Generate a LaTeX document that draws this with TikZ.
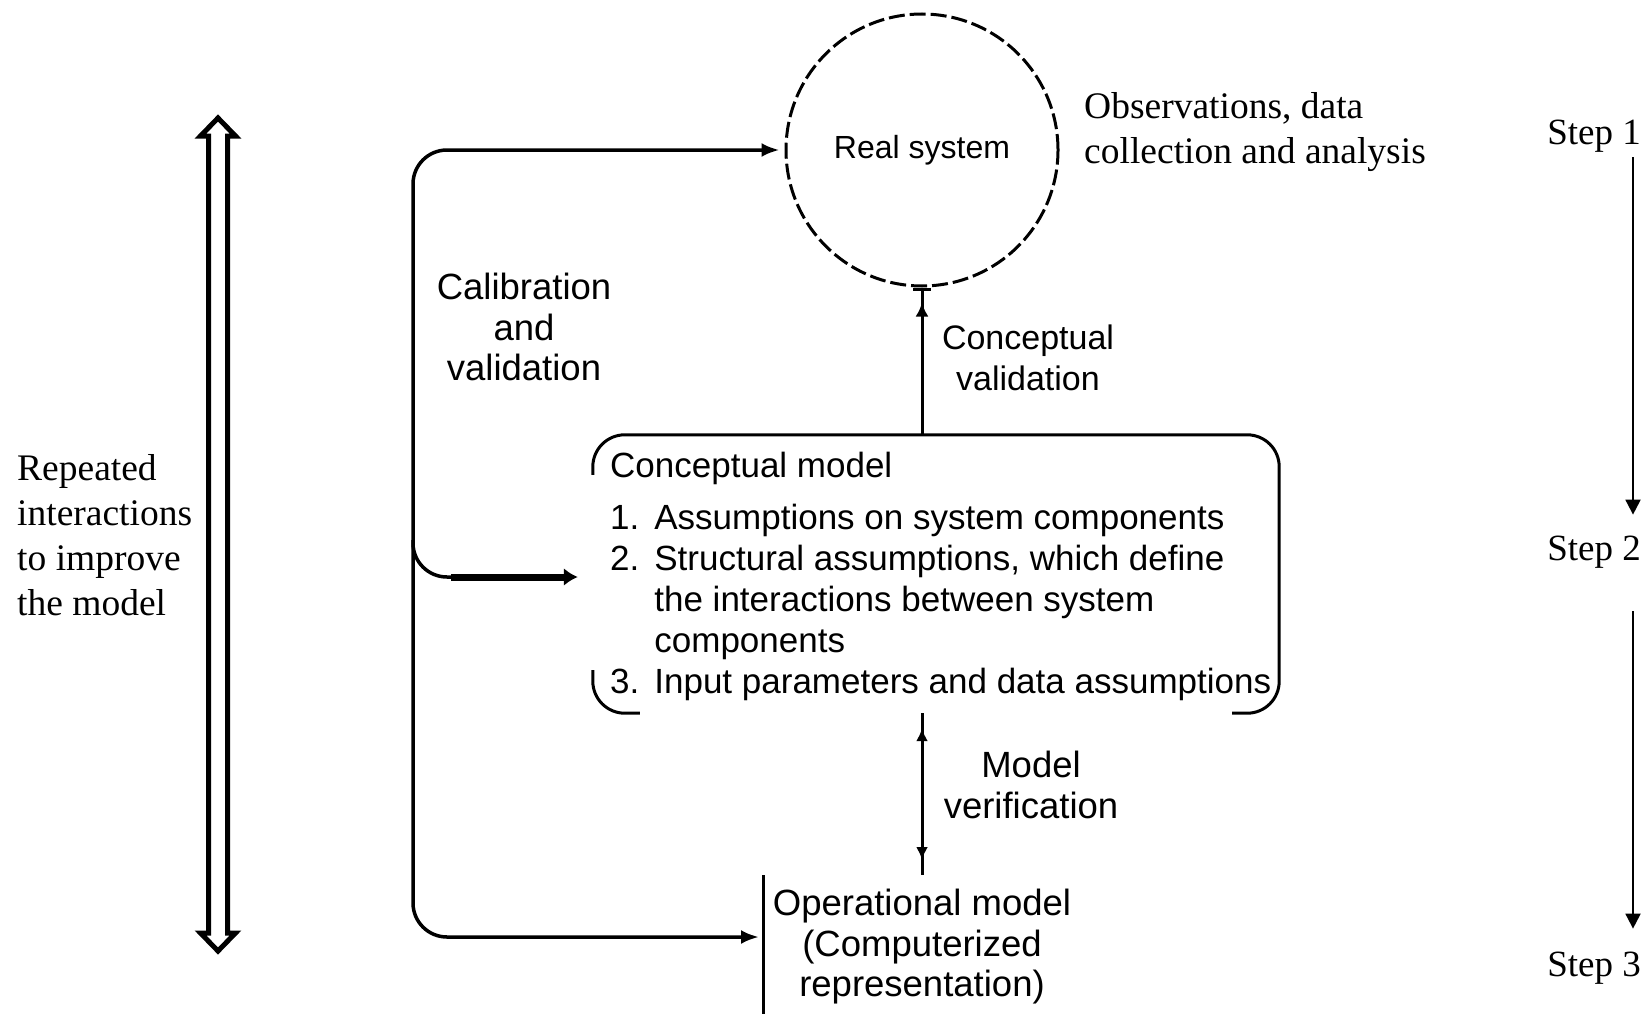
\documentclass[tikz,border=0pt]{standalone}
\usepackage{fontspec}
\setmainfont{Liberation Serif}
\newfontfamily\sansf{Liberation Sans}
\usetikzlibrary{arrows.meta,calc}
\tikzset{smalltip/.tip={Latex[length=18pt,width=14pt]}}
\begin{document}
\begin{tikzpicture}[x=1pt,y=-1pt,
  sanslbl/.style={font=\sansf\fontsize{36.5}{40.5}\selectfont, align=center, inner sep=0pt},
  seriflbl/.style={font=\fontsize{37.5}{45}\selectfont, align=left, inner sep=0pt},
  steplbl/.style={font=\fontsize{37}{45}\selectfont, inner sep=0pt},
  conn/.style={line width=3pt},
  loopline/.style={line width=3.5pt},
  branchline/.style={line width=7pt},
  boxline/.style={line width=3pt, rounded corners=32pt},
  steparrow/.style={line width=2pt, -{Triangle[length=15pt,width=15pt]}},
  bigarrow/.style={line width=5pt, fill=white, line join=miter}
]
\useasboundingbox (0,0) rectangle (1645,1014);

% Real system
\node[draw, circle, line width=3pt, dash pattern=on 16pt off 5pt,
      minimum size=272pt, inner sep=0pt,
      font=\sansf\fontsize{32}{38}\selectfont] (rs) at (922,150) {Real system};

% Conceptual model box (frame) and its content
\node[rectangle, minimum width=686pt, minimum height=278pt, inner sep=0pt] (cmbox) at (936,574) {};
\draw[boxline] ($(cmbox.north west)+(0,40)$) -- (cmbox.north west) -- (cmbox.north east)
   -- (cmbox.south east) -- ($(cmbox.south east)+(-47,0)$);
\draw[boxline] ($(cmbox.south west)+(0,-43)$) -- (cmbox.south west) -- ($(cmbox.south west)+(47,0)$);
\node[anchor=base west, inner sep=0pt] (cm) at (610,477)
  {\sansf\fontsize{35}{41}\selectfont
   \begin{tabular}[t]{@{}l@{\hspace{15pt}}l@{}}
   \multicolumn{2}{@{}l@{}}{Conceptual model}\\[11pt]
   1. & Assumptions on system components\\
   2. & Structural assumptions, which define\\
      & the interactions between system\\
      & components\\
   3. & Input parameters and data assumptions
   \end{tabular}};

% Operational model
\node[sanslbl] (op) at (922,947) {Operational model\\(Computerized\\representation)};
\coordinate (bartop) at (763,875);
\coordinate (barbot) at (763,1014);
\coordinate (opin) at (763,937);
\draw[conn] (bartop) -- (barbot);

% Labels
\node[sanslbl] (cal) at (524,327) {Calibration\\and\\validation};
\node[sanslbl, font=\sansf\fontsize{34}{40.5}\selectfont] (cv) at (1028,358) {Conceptual\\validation};
\node[sanslbl] (mv) at (1031,785) {Model\\verification};

\node[seriflbl, anchor=west] (obs) at (1084,132) {Observations, data\\collection and analysis};
\node[seriflbl, anchor=west] (rep) at (17,535) {Repeated\\interactions\\to improve\\the model};

\node[steplbl] (s1) at (1594,136) {Step 1};
\node[steplbl] (s2) at (1594,552) {Step 2};
\node[steplbl] (s3) at (1594,968) {Step 3};
\coordinate (ax) at (1633,0);
\draw[steparrow, shorten <=5pt, shorten >=21pt] (s1.south -| ax) -- (s2.north -| ax);
\draw[steparrow, shorten <=43pt, shorten >=23pt] (s2.south -| ax) -- (s3.north -| ax);

% Feedback loop
\draw[loopline, rounded corners=34pt, {smalltip}-{smalltip}, shorten <=4pt, shorten >=5pt]
  (opin) -| (413,150) -- (rs.west);
\coordinate (cmin) at ($(cmbox.west)+(0,3)$);
\draw[loopline, rounded corners=34pt] (413,540) |- ($(cmin)+(-120,0)$);
\draw[branchline, -{Latex[length=14pt,width=18pt]}, shorten >=15pt]
  ($(cmin)+(-142,0)$) -- (cmin);

% Conceptual validation arrow
\draw[conn, -{Latex[length=14pt,width=13pt,sep=12pt]Bar[width=18pt]}]
  (rs.south |- cmbox.north) -- (rs.south);

% Model verification arrow
\draw[conn] (rs.south |- cmbox.south) -- (rs.south |- bartop);
\draw[conn, {Latex[length=13pt,width=12pt]}-{Latex[length=13pt,width=12pt]}, shorten <=15pt, shorten >=15pt]
  (rs.south |- cmbox.south) -- (rs.south |- bartop);

% Double arrow for repeated interactions
\draw[bigarrow] (218,118) -- (235.5,136) -- (227.5,136) -- (227.5,933) -- (235.5,933)
  -- (218,951) -- (200.5,933) -- (208.5,933) -- (208.5,136) -- (200.5,136) -- cycle;
\end{tikzpicture}
\end{document}
